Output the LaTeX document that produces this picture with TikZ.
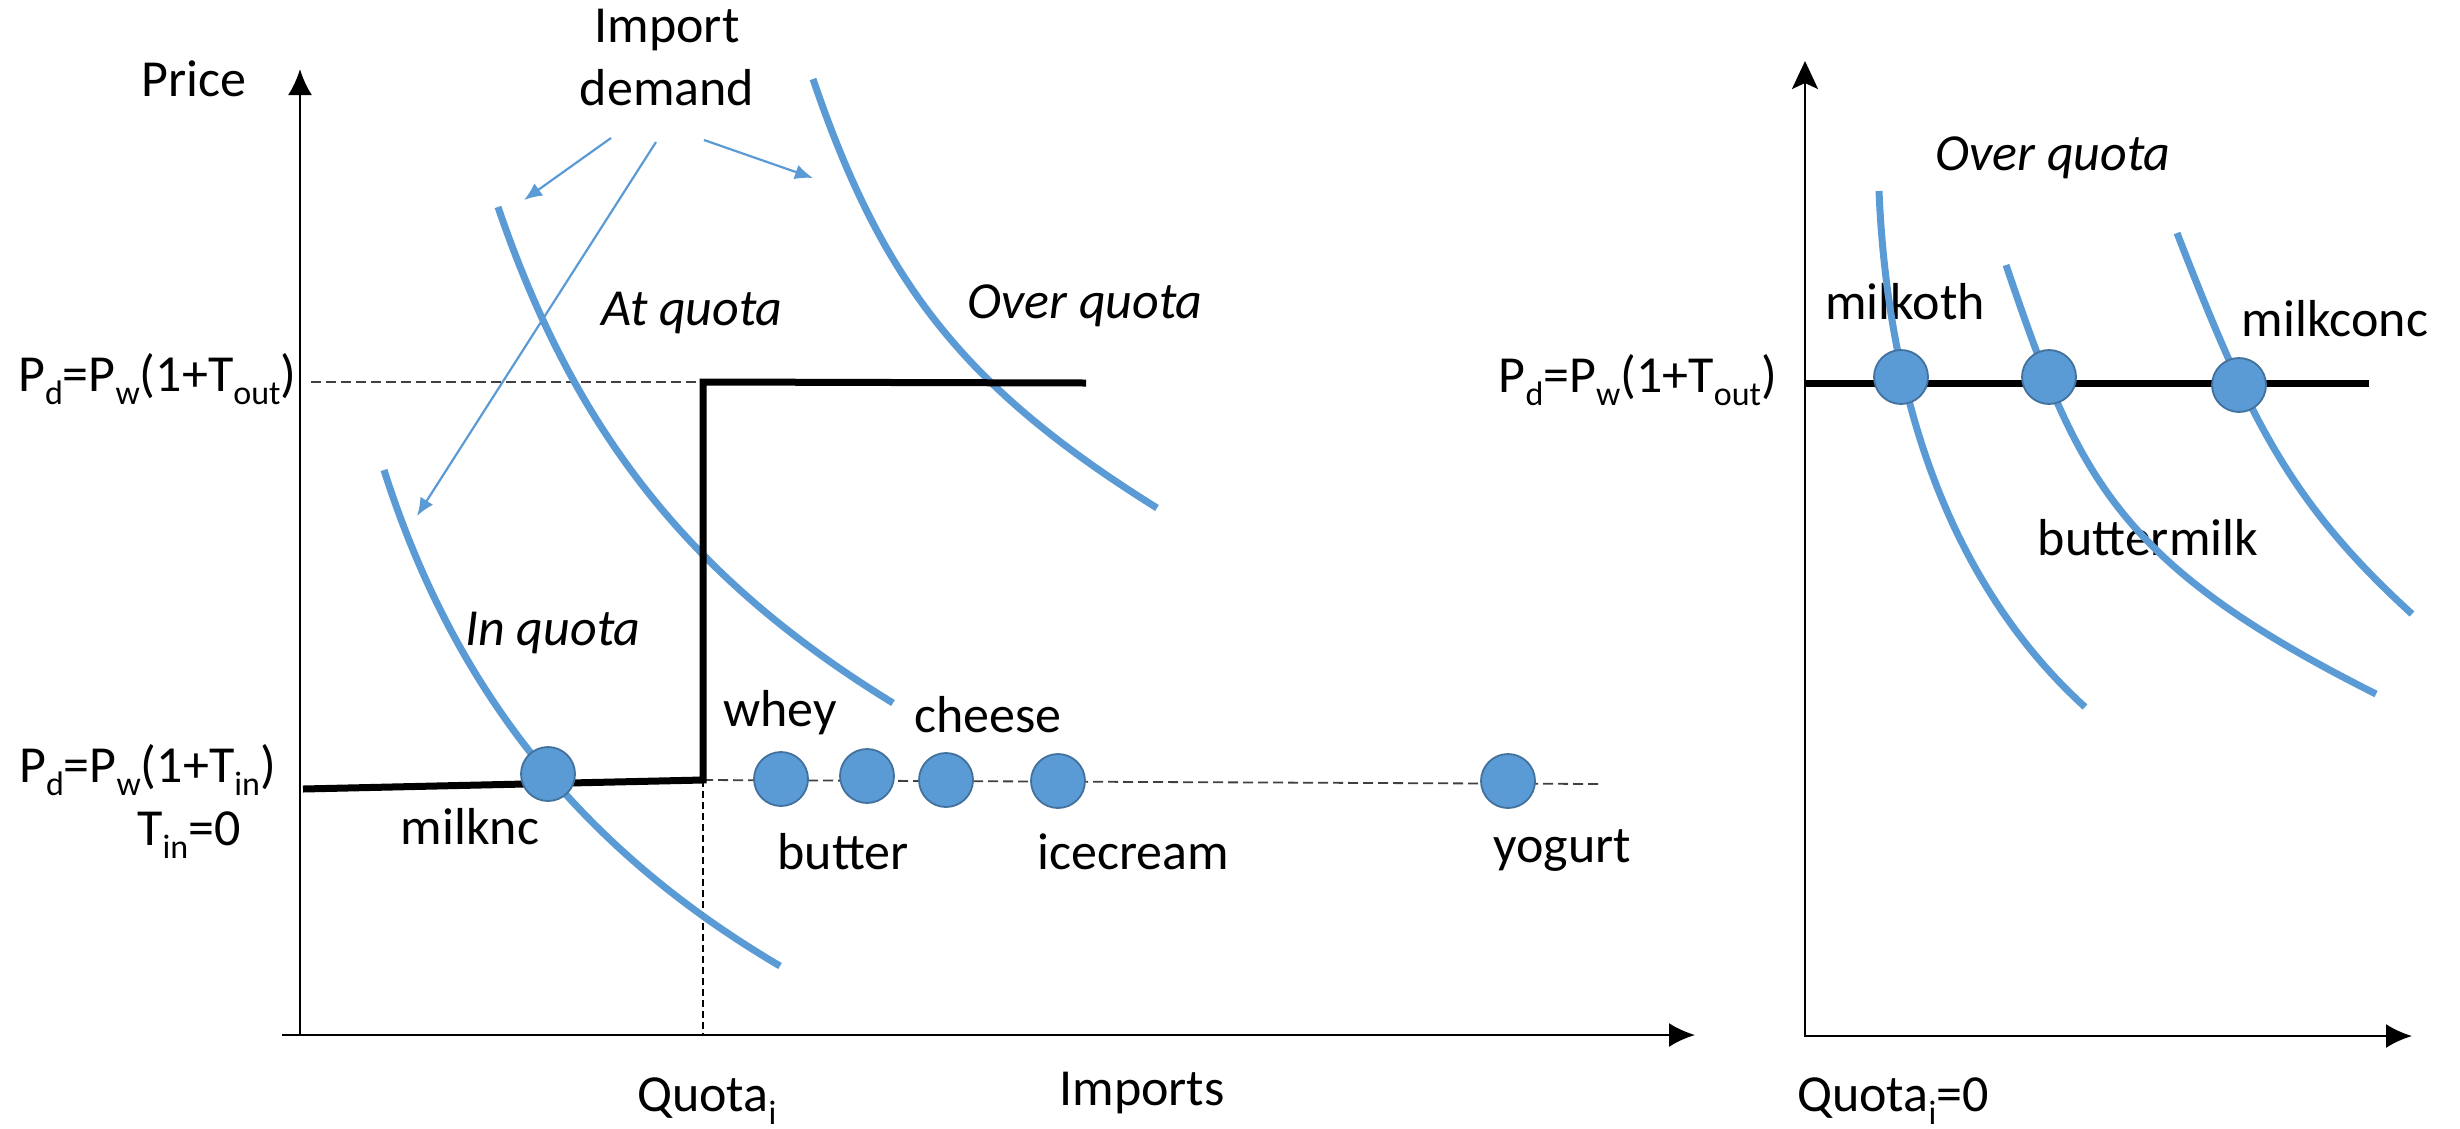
\documentclass[tikz,border=0pt]{standalone}
\usepackage{fontspec}
\setmainfont{Carlito}
\usetikzlibrary{arrows.meta}
\definecolor{curveblue}{HTML}{5B9BD5}
\definecolor{dotedge}{HTML}{41719C}
\definecolor{dashgray}{HTML}{404040}
\newcommand\sbx[1]{\raisebox{-13pt}{\fontsize{34}{34}\selectfont #1}}
\begin{document}
\begin{tikzpicture}[x=1pt,y=-1pt,
  lbl/.style={inner sep=0pt, font=\fontsize{52}{63}\selectfont},
  ital/.style={inner sep=0pt, font=\fontsize{52}{63}\selectfont\itshape},
  axis/.style={line width=2.5pt, -{Latex[length=26pt,width=24pt]}},
  axisv/.style={line width=2.5pt, -{Stealth[length=28pt,width=26pt,inset=6pt]}},
  demand/.style={curveblue, line width=7pt},
  stepline/.style={line width=7pt, black, line join=miter},
  guide/.style={dashgray, line width=1.8pt, dash pattern=on 10pt off 5pt},
  vguide/.style={black, line width=1.3pt, dash pattern=on 7pt off 4pt},
  pointer/.style={curveblue, line width=2.2pt, -{Latex[length=18pt,width=15pt]}},
  dot/.style={circle, minimum size=54pt, inner sep=0pt, fill=curveblue, draw=dotedge, line width=1.8pt}
]
\useasboundingbox (0,0) rectangle (2460,1128);
\fill[white] (0,0) rectangle (2460,1128);

% ---------- left panel axes ----------
\coordinate (lxs) at (282,1035);
\coordinate (lxe) at (1695,1035);
\coordinate (lys) at (300,1036);
\coordinate (lye) at (300,69);
\draw[axis] (lxs) -- (lxe);
\draw[axis] (lys) -- (lye);

% guide lines
\coordinate (gts) at (311,382);
\coordinate (corner) at (703,382);
\coordinate (kink) at (703,780);
\coordinate (gbe) at (1600,784);
\coordinate (qfoot) at (703,1035);
\draw[guide] (gts) -- (corner);
\draw[guide] (kink) -- (gbe);
\draw[vguide] (kink) -- (qfoot);

% demand curves (left)
\draw[demand] (498,207) .. controls (573,427) and (686,576) .. (893,703);
\draw[demand] (813,79) .. controls (882,282) and (963,387) .. (1157,508);
\draw[demand] (384,470) .. controls (452,684) and (576,846) .. (780,966);

% step line
\coordinate (sl) at (303,789);
\coordinate (sr) at (1086,383);
\draw[stepline] (sl) -- (kink) -- (corner) -- (sr);

% labels left
\node[lbl, anchor=base] (price) at (194,96) {Price};
\node[lbl, align=center, anchor=north] (impdem) at (667,8.5) {Import\\demand};
\node[lbl, anchor=base west] (pdout) at (18,391) {P\sbx{d}=P\sbx{w}(1+T\sbx{out})};
\node[lbl, anchor=base west] (pdin) at (19,782) {P\sbx{d}=P\sbx{w}(1+T\sbx{in})};
\node[lbl, anchor=base] (tin) at (189,845) {T\sbx{in}=0};
\node[ital, anchor=base] (atq) at (692,325) {At quota};
\node[ital, anchor=base] (overq) at (1085,318) {Over quota};
\node[ital, anchor=base] (inq) at (553,645) {In quota};
\node[lbl, anchor=base] (lwhey) at (780,726) {whey};
\node[lbl, anchor=base] (lcheese) at (988,732) {cheese};
\node[lbl, anchor=base] (lbutter) at (843,869) {butter};
\node[lbl, anchor=base] (licecream) at (1133,869) {icecream};
\node[lbl, anchor=base] (lyogurt) at (1562,862) {yogurt};
\node[lbl, anchor=base] (lmilknc) at (470,844) {milknc};
\node[lbl, anchor=base west] (quota) at (637,1111) {Quota\sbx{i}};
\node[lbl, anchor=base] (imports) at (1142,1105) {Imports};

% pointers from "Import demand"
\coordinate (p1s) at (611,138);
\coordinate (p1e) at (524,200);
\coordinate (p2s) at (656,142);
\coordinate (p2e) at (417,516);
\coordinate (p3s) at (704,140);
\coordinate (p3e) at (813,178);
\draw[pointer] (p1s) -- (p1e);
\draw[pointer] (p2s) -- (p2e);
\draw[pointer] (p3s) -- (p3e);

% dots left
\node[dot] (dmilknc) at (548,774) {};
\node[dot] (dwhey) at (781,779) {};
\node[dot] (dbutter) at (867,776) {};
\node[dot] (dcheese) at (946,780) {};
\node[dot] (dicecream) at (1058,781) {};
\node[dot] (dyogurt) at (1508,781) {};

% ---------- right panel ----------
\coordinate (rxs) at (1805,1036);
\coordinate (rxe) at (2412,1036);
\coordinate (rys) at (1805,1037);
\coordinate (rye) at (1805,61);
\draw[axis] (rxs) -- (rxe);
\draw[axisv] (rys) -- (rye);

% labels right (under the curves)
\node[lbl, anchor=base east] (pdr) at (1777,392) {P\sbx{d}=P\sbx{w}(1+T\sbx{out})};
\node[ital, anchor=base] (overqr) at (2053,170) {Over quota};
\node[lbl, anchor=base] (lmilkoth) at (1905,319) {milkoth};
\node[lbl, anchor=base] (lmilkconc) at (2335,336) {milkconc};
\node[lbl, anchor=base] (lbuttermilk) at (2148,555) {buttermilk};
\node[lbl, anchor=base west] (quota0) at (1797,1111) {Quota\sbx{i}=0};

\draw[demand] (1879,191) .. controls (1888,406) and (1954,588) .. (2085,707);
\draw[demand] (2006,265) .. controls (2078,477) and (2115,563) .. (2376,694);
\draw[demand] (2177,233) .. controls (2248,416) and (2289,502) .. (2412,614);

\coordinate (rls) at (1805,383);
\coordinate (rle) at (2369,383);
\draw[stepline] (rls) -- (rle);

\node[dot] (dmilkoth) at (1901,377) {};
\node[dot] (dbuttermilk) at (2049,377) {};
\node[dot] (dmilkconc) at (2239,385) {};
\end{tikzpicture}
\end{document}
